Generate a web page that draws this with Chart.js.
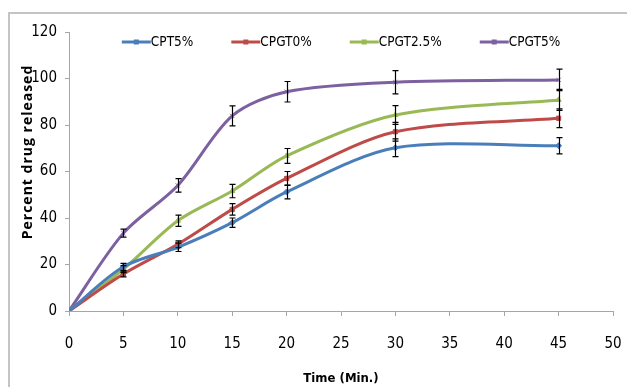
<!DOCTYPE html>
<html lang="en">
  <head>
    <title>Drug release</title>
    <meta charset="utf-8">
    <script type="text/javascript" src="https://cdn.jsdelivr.net/npm/chart.js@4.4.1/dist/chart.umd.min.js"></script>
    <style>
      body { margin: 0; background: #fff; overflow: hidden; }
      #wrap { position: relative; width: 627px; height: 387px; }
      #frame { position: absolute; left: 8px; top: 12px; width: 700px; height: 500px;
               border: 2px solid #c4c4c4; box-sizing: border-box; pointer-events: none; }
      canvas { position: absolute; left: 0; top: 0; }
    </style>
  </head>
  <body>
    <div id="wrap">
      <canvas id="chart" width="627" height="387"></canvas>
      <div id="frame"></div>
    </div>

    <script language="javascript" type="text/javascript">

      // sampling times (min) and tick values
      times = [0, 5, 10, 15, 20, 30, 45];
      xTicks = [0, 5, 10, 15, 20, 25, 30, 35, 40, 45, 50];
      yTicks = [0, 20, 40, 60, 80, 100, 120];

      seriesNames = ["CPT5%", "CPGT0%", "CPGT2.5%", "CPGT5%"];

      // percent drug released, and the error bar half-widths
      cpt5     = [0, 19.0, 27.4, 38.0, 51.2, 70.2, 71.1];
      cpt5Err  = [0, 1.5, 1.8, 2.0, 3.0, 3.8, 3.5];
      cpgt0    = [0, 15.9, 28.7, 43.7, 57.0, 77.1, 82.9];
      cpgt0Err = [0, 1.2, 1.5, 2.5, 3.0, 4.0, 4.0];
      cpgt25   = [0, 18.0, 38.8, 51.6, 66.7, 84.3, 90.8];
      cpgt25Err= [0, 1.5, 2.4, 2.9, 3.2, 4.0, 4.5];
      cpgt5    = [0, 33.5, 54.0, 83.9, 94.3, 98.4, 99.4];
      cpgt5Err = [0, 1.7, 2.9, 4.3, 4.4, 5.0, 4.6];

      FONT = "'DejaVu Sans Condensed', 'Liberation Sans Narrow', sans-serif";

      function pts(vals) {
        return times.map(function(t, i) { return {x: t, y: vals[i]}; });
      }

      function makeSet(label, vals, errs, color, style) {
        return {
          label: label,
          data: pts(vals),
          errors: errs,
          borderColor: color,
          backgroundColor: color,
          borderWidth: 3,
          tension: 0.3,
          pointStyle: style,
          pointRadius: 3,
          pointBorderWidth: 1,
          pointHoverRadius: 3
        };
      }

      // error bars, drawn through the chart scales
      errorBars = {
        id: "errorBars",
        afterDatasetsDraw: function(chart) {
          let ctx = chart.ctx;
          let xs = chart.scales.x, ys = chart.scales.y;
          ctx.save();
          ctx.strokeStyle = "#000";
          ctx.lineWidth = 1.2;
          chart.data.datasets.forEach(function(ds) {
            ds.data.forEach(function(p, i) {
              let e = ds.errors[i];
              if (!e) return;
              let px = Math.round(xs.getPixelForValue(p.x)) + 0.5;
              let top = ys.getPixelForValue(p.y + e);
              let bot = ys.getPixelForValue(p.y - e);
              ctx.beginPath();
              ctx.moveTo(px, top); ctx.lineTo(px, bot);
              ctx.moveTo(px - 3, top); ctx.lineTo(px + 3, top);
              ctx.moveTo(px - 3, bot); ctx.lineTo(px + 3, bot);
              ctx.stroke();
            });
          });
          ctx.restore();
        }
      };

      // legend inside the plot area and the y title, Excel style
      extras = {
        id: "extras",
        afterDraw: function(chart) {
          let ctx = chart.ctx;
          let area = chart.chartArea;
          ctx.save();
          ctx.font = "13.5px " + FONT;
          ctx.textBaseline = "middle";
          let lineLen = 29, gap = 38;
          let widths = chart.data.datasets.map(function(ds) {
            return lineLen + ctx.measureText(ds.label).width;
          });
          let total = widths.reduce(function(a, b) { return a + b; }, 0) + gap * (widths.length - 1);
          let x = (area.left + area.right) / 2 - total / 2;
          let y = 42;
          chart.data.datasets.forEach(function(ds, i) {
            ctx.strokeStyle = ds.borderColor;
            ctx.lineWidth = 3;
            ctx.beginPath();
            ctx.moveTo(x, y); ctx.lineTo(x + lineLen, y);
            ctx.stroke();
            ctx.fillStyle = ds.borderColor;
            ctx.fillRect(x + lineLen / 2 - 2.5, y - 2.5, 5, 5);
            ctx.fillStyle = "#000";
            ctx.textAlign = "left";
            ctx.fillText(ds.label, x + lineLen, y);
            x += widths[i] + gap;
          });

          ctx.translate(28, 152);
          ctx.rotate(-Math.PI / 2);
          ctx.font = "bold 14px 'Open Sans', sans-serif";
          ctx.letterSpacing = "1px";
          ctx.textAlign = "center";
          ctx.fillStyle = "#000";
          ctx.fillText("Percent drug released", 0, 0);
          ctx.restore();
        }
      };

      chart = new Chart("chart", {
        type: "line",
        data: {
          datasets: [
            makeSet(seriesNames[0], cpt5, cpt5Err, "#4a7ebb", "rectRot"),
            makeSet(seriesNames[1], cpgt0, cpgt0Err, "#be4b48", "rect"),
            makeSet(seriesNames[2], cpgt25, cpgt25Err, "#98b954", "triangle"),
            makeSet(seriesNames[3], cpgt5, cpgt5Err, "#7d60a0", "crossRot")
          ]
        },
        options: {
          responsive: false,
          animation: false,
          layout: {padding: {left: 0, top: 32, right: 14, bottom: 0}},
          plugins: {legend: {display: false}, tooltip: {enabled: false}},
          scales: {
            x: {
              type: "linear",
              min: 0,
              max: 50,
              afterBuildTicks: function(s) { s.ticks = xTicks.map(function(v) { return {value: v}; }); },
              afterFit: function(s) { s.height = 76; s.paddingLeft = 0; s.paddingRight = 0; },
              grid: {drawOnChartArea: false, drawTicks: true, tickLength: 5, color: "#a6a6a6"},
              border: {color: "#a6a6a6", width: 1},
              ticks: {color: "#000", font: {family: FONT, size: 15}, padding: 19, maxRotation: 0},
              title: {display: true, text: "Time (Min.)", color: "#000",
                      font: {family: FONT, size: 13, weight: "bold"}, padding: {top: 0, bottom: 1}}
            },
            y: {
              min: 0,
              max: 120,
              afterBuildTicks: function(s) { s.ticks = yTicks.map(function(v) { return {value: v}; }); },
              afterFit: function(s) { s.width = 69; s.paddingTop = 0; s.paddingBottom = 0; },
              grid: {drawOnChartArea: false, drawTicks: true, tickLength: 4, color: "#a6a6a6"},
              border: {color: "#a6a6a6", width: 1},
              ticks: {color: "#000", font: {family: FONT, size: 15}, padding: 8}
            }
          }
        },
        plugins: [errorBars, extras]
      });

    </script>
  </body>
</html>
